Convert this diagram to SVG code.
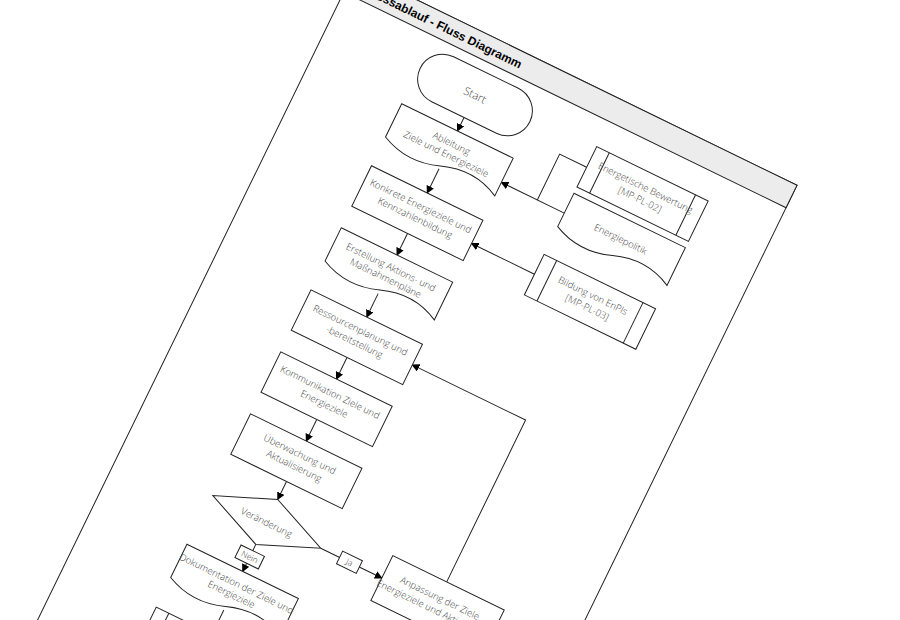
<svg xmlns="http://www.w3.org/2000/svg" width="900" height="620" viewBox="0 0 900 620">
<defs>
<marker id="ar" markerWidth="8" markerHeight="8" refX="7" refY="4" orient="auto" markerUnits="userSpaceOnUse"><path d="M0,0 L8,4 L0,8 Z" fill="#000"/></marker>
<style>
.s{fill:#fff;stroke:#222;stroke-width:1}
.c{fill:none;stroke:#222;stroke-width:1}
.t{font-family:"Open Sans","DejaVu Sans",sans-serif;font-size:9.5px;fill:#444;text-anchor:middle;font-weight:300}
.h{font-family:"Liberation Sans",Arial,sans-serif;font-size:12px;font-weight:bold;fill:#000}
</style>
</defs>
<rect width="900" height="620" fill="#fff"/>
<g transform="rotate(26 475 95)">
<g id="page">
<rect x="312" y="35" width="492" height="900" class="s"/>
<rect x="312" y="35" width="492" height="25" fill="#ececec" stroke="#222"/>
<text x="318" y="52" class="h">Prozessablauf - Fluss Diagramm</text>
</g>
<g id="connectors">
<line x1="475" y1="120" x2="475" y2="135" class="c" marker-end="url(#ar)"/>
<line x1="475" y1="177" x2="475" y2="204" class="c" marker-end="url(#ar)"/>
<line x1="475" y1="249" x2="475" y2="273" class="c" marker-end="url(#ar)"/>
<line x1="475" y1="316" x2="475" y2="342" class="c" marker-end="url(#ar)"/>
<line x1="475" y1="387" x2="475" y2="411" class="c" marker-end="url(#ar)"/>
<line x1="475" y1="456" x2="475" y2="480" class="c" marker-end="url(#ar)"/>
<line x1="475" y1="525" x2="475" y2="545" class="c" marker-end="url(#ar)"/>
<line x1="475" y1="595" x2="475" y2="625" class="c" marker-end="url(#ar)"/>
<line x1="475" y1="668" x2="475" y2="695" class="c" marker-end="url(#ar)"/>
<line x1="535" y1="570" x2="603" y2="570" class="c" marker-end="url(#ar)"/>
<polyline points="663,545 663,365 537,365" class="c" marker-end="url(#ar)"/>
<line x1="607" y1="162" x2="537" y2="162" class="c" marker-end="url(#ar)"/>
<polyline points="607,111 577,111 577,162" class="c"/>
<line x1="607" y1="230" x2="537" y2="230" class="c" marker-end="url(#ar)"/>
</g>
<g id="start"><rect x="414" y="70" width="122" height="50" rx="25" class="s"/><text x="475" y="99" class="t" style="font-size:11px">Start</text></g>
<g id="ableitung"><path d="M413,135 H537 V177 C516,166 496,166 475,174 C454,182 434,182 413,172 Z" class="s"/><text x="475" y="152" class="t">Ableitung</text><text x="475" y="164" class="t">Ziele und Energieziele</text></g>
<g id="konkrete"><rect x="413" y="204" width="124" height="45" class="s"/><text x="475" y="222" class="t">Konkrete Energieziele und</text><text x="475" y="235" class="t">Kennzahlenbildung</text></g>
<g id="erstellung"><path d="M413,273 H537 V315 C516,304 496,304 475,312 C454,320 434,320 413,310 Z" class="s"/><text x="475" y="290" class="t">Erstellung Aktions- und</text><text x="475" y="302" class="t">Maßnahmenpläne</text></g>
<g id="ressourcen"><rect x="413" y="342" width="124" height="45" class="s"/><text x="475" y="360" class="t">Ressourcenplanung und</text><text x="475" y="373" class="t">-bereitstellung</text></g>
<g id="kommunikation"><rect x="413" y="411" width="124" height="45" class="s"/><text x="475" y="429" class="t">Kommunikation Ziele und</text><text x="475" y="442" class="t">Energieziele</text></g>
<g id="ueberwachung"><rect x="413" y="480" width="124" height="45" class="s"/><text x="475" y="498" class="t">Überwachung und</text><text x="475" y="511" class="t">Aktualisierung</text></g>
<g id="veraenderung"><polygon points="475,545 535,570 475,595 415,570" class="s"/><text x="475" y="574" class="t">Veränderung</text></g>
<g id="nein"><rect x="462" y="602" width="26" height="14" class="s"/><text x="475" y="612" class="t" style="font-size:8.5px">Nein</text></g>
<g id="ja"><rect x="556" y="563" width="22" height="14" class="s"/><text x="567" y="573" class="t" style="font-size:8.5px">Ja</text></g>
<g id="dokumentation"><path d="M413,625 H537 V667 C516,656 496,656 475,664 C454,672 434,672 413,662 Z" class="s"/><text x="475" y="642" class="t">Dokumentation der Ziele und</text><text x="475" y="654" class="t">Energieziele</text></g>
<g id="next"><rect x="413" y="695" width="124" height="45" class="s"/><line x1="427" y1="695" x2="427" y2="740" class="c"/><line x1="523" y1="695" x2="523" y2="740" class="c"/></g>
<g id="anpassung"><rect x="603" y="545" width="124" height="50" class="s"/><text x="665" y="566" class="t">Anpassung der Ziele,</text><text x="665" y="579" class="t">Energieziele und Aktionspläne</text></g>
<g id="bewertung"><rect x="607" y="88" width="124" height="45" class="s"/><line x1="621" y1="88" x2="621" y2="133" class="c"/><line x1="717" y1="88" x2="717" y2="133" class="c"/><text x="669" y="107" class="t">Energetische Bewertung</text><text x="669" y="120" class="t">[MP-PL-02]</text></g>
<g id="energiepolitik"><path d="M607,140 H731 V182 C710,171 690,171 669,179 C648,187 628,187 607,177 Z" class="s"/><text x="669" y="164" class="t">Energiepolitik</text></g>
<g id="enpis"><rect x="607" y="208" width="124" height="45" class="s"/><line x1="621" y1="208" x2="621" y2="253" class="c"/><line x1="717" y1="208" x2="717" y2="253" class="c"/><text x="669" y="227" class="t">Bildung von EnPIs</text><text x="669" y="240" class="t">[MP-PL-03]</text></g>
</g>
</svg>
